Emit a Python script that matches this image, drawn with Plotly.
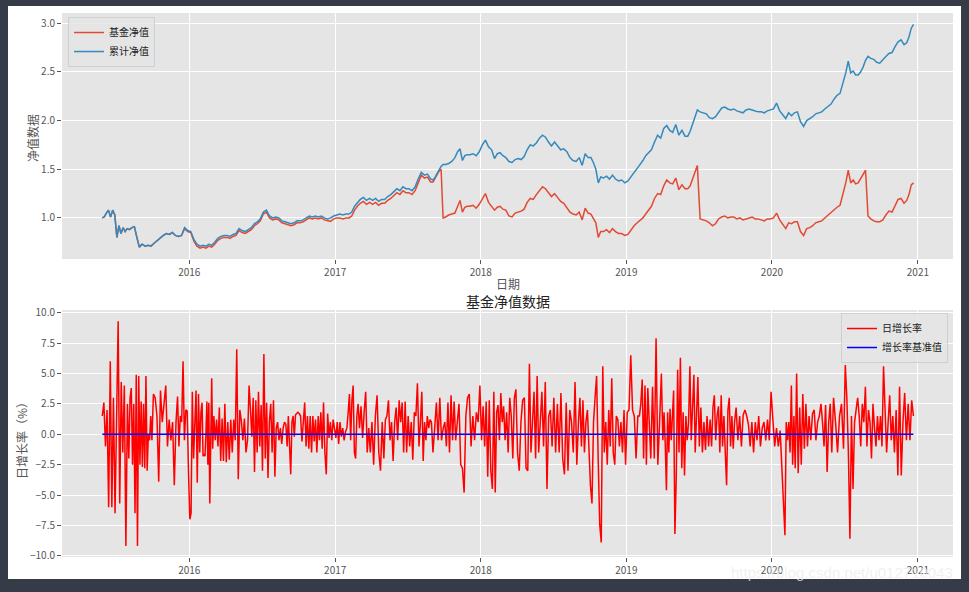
import pandas as pd
import plotly.graph_objects as go

# ---------------- data ----------------
months = [f"{y}-{m:02d}" for y in range(2015, 2021) for m in range(1, 13)
          if (y, m) >= (2015, 6) and (y, m) <= (2020, 12)]

# 累计净值 (cumulative NAV), values per month
cum_nav = [
    [1.00, 1.01, 1.05, 1.08, 1.01, 1.08, 1.03],      # 2015-06
    [0.80, 0.92, 0.84, 0.90, 0.86, 0.89],            # 2015-07
    [0.88, 0.90, 0.91, 0.80, 0.70],                  # 2015-08
    [0.73, 0.71, 0.72, 0.71],
    [0.74, 0.77, 0.79, 0.82],
    [0.84, 0.83, 0.85, 0.82],
    [0.81, 0.82, 0.90, 0.87],                        # 2015-12
    [0.86, 0.78, 0.73, 0.71],                        # 2016-01
    [0.72, 0.71, 0.73, 0.72],
    [0.75, 0.79, 0.81, 0.82],
    [0.82, 0.81, 0.83, 0.84],
    [0.89, 0.87, 0.86, 0.88],
    [0.90, 0.94, 0.96, 0.99],
    [1.06, 1.08, 1.02, 1.00],
    [1.01, 1.00, 0.97, 0.96],
    [0.95, 0.94, 0.95, 0.97],
    [0.97, 0.98, 1.00, 1.02],
    [1.01, 1.02, 1.01, 1.02],
    [1.00, 0.99, 1.00, 1.02],                        # 2016-12
    [1.03, 1.04, 1.03, 1.04],                        # 2017-01
    [1.04, 1.06, 1.12, 1.16],
    [1.19, 1.21, 1.18, 1.20],
    [1.18, 1.20, 1.17, 1.19],
    [1.19, 1.22, 1.24, 1.27],
    [1.30, 1.28, 1.32, 1.30],
    [1.30, 1.28, 1.32, 1.40],
    [1.47, 1.44, 1.45, 1.40],
    [1.39, 1.42, 1.46, 1.50, 1.53, 1.55],            # 2017-09
    [1.55, 1.56, 1.58, 1.62],
    [1.68, 1.71, 1.59, 1.64, 1.65],
    [1.65, 1.66, 1.64, 1.68],                        # 2017-12
    [1.75, 1.80, 1.73, 1.70],                        # 2018-01
    [1.61, 1.66, 1.67, 1.64],
    [1.62, 1.58, 1.57, 1.60],
    [1.61, 1.60, 1.63, 1.70],
    [1.75, 1.74, 1.77, 1.82],
    [1.85, 1.83, 1.78, 1.74],
    [1.78, 1.74, 1.70, 1.71],
    [1.68, 1.62, 1.59, 1.58],
    [1.62, 1.54, 1.66, 1.62],
    [1.62, 1.57, 1.50, 1.36, 1.42],
    [1.41, 1.43, 1.40, 1.44],
    [1.40, 1.38, 1.39, 1.36],                        # 2018-12
    [1.38, 1.42, 1.47, 1.50],                        # 2019-01
    [1.55, 1.59, 1.64, 1.67],
    [1.70, 1.78, 1.85, 1.82],
    [1.92, 1.95, 1.90, 1.88],
    [1.96, 1.85, 1.90, 1.84],
    [1.84, 1.89, 1.97, 2.05, 2.11],
    [2.09, 2.08, 2.07, 2.03],
    [2.02, 2.04, 2.09, 2.13],
    [2.14, 2.12, 2.11, 2.12],
    [2.10, 2.09, 2.08, 2.11],
    [2.12, 2.11, 2.10, 2.09],
    [2.09, 2.08, 2.10, 2.11],                        # 2019-12
    [2.12, 2.18, 2.10, 2.06],                        # 2020-01
    [2.02, 2.08, 2.05, 2.08],
    [2.09, 1.99, 1.94, 2.00],
    [2.02, 2.04, 2.07, 2.08],
    [2.09, 2.12, 2.15, 2.17],
    [2.22, 2.26, 2.28, 2.38],
    [2.49, 2.61, 2.49, 2.51, 2.47],
    [2.47, 2.50, 2.55, 2.62, 2.66],
    [2.64, 2.63, 2.60, 2.59],
    [2.63, 2.66, 2.69, 2.70],
    [2.76, 2.81, 2.83, 2.78],
    [2.80, 2.86, 2.95, 2.99],                        # 2020-12
]

# 基金净值 (unit NAV), values per month
unit_nav = [
    [1.00, 1.01, 1.05, 1.08, 1.01, 1.08, 1.03],      # 2015-06
    [0.80, 0.92, 0.84, 0.90, 0.86, 0.89],
    [0.88, 0.90, 0.91, 0.80, 0.70],
    [0.73, 0.71, 0.72, 0.71],
    [0.74, 0.77, 0.79, 0.82],
    [0.84, 0.83, 0.85, 0.82],
    [0.81, 0.82, 0.89, 0.86],                        # 2015-12
    [0.85, 0.76, 0.71, 0.69],                        # 2016-01
    [0.70, 0.69, 0.71, 0.70],
    [0.73, 0.77, 0.79, 0.80],
    [0.80, 0.79, 0.81, 0.82],
    [0.87, 0.85, 0.84, 0.86],
    [0.88, 0.92, 0.94, 0.97],
    [1.04, 1.06, 1.00, 0.98],
    [0.99, 0.98, 0.95, 0.94],
    [0.93, 0.92, 0.93, 0.95],
    [0.95, 0.96, 0.98, 1.00],
    [0.99, 1.00, 0.99, 1.00],
    [0.98, 0.97, 0.965, 0.99],                       # 2016-12
    [1.00, 1.00, 0.99, 1.00],                        # 2017-01
    [1.00, 1.02, 1.08, 1.12],
    [1.15, 1.17, 1.14, 1.16],
    [1.14, 1.16, 1.13, 1.15],
    [1.15, 1.18, 1.20, 1.23],
    [1.26, 1.24, 1.28, 1.26],
    [1.26, 1.24, 1.28, 1.36],
    [1.44, 1.41, 1.42, 1.37],
    [1.37, 1.41, 1.45, 1.48, 1.50, 1.00],            # 2017-09
    [1.01, 1.03, 1.04, 1.05],
    [1.12, 1.18, 1.06, 1.11, 1.12],
    [1.12, 1.13, 1.10, 1.14],                        # 2017-12
    [1.20, 1.25, 1.16, 1.12],                        # 2018-01
    [1.08, 1.11, 1.12, 1.09],
    [1.08, 1.02, 1.01, 1.05],
    [1.06, 1.07, 1.09, 1.16],
    [1.20, 1.19, 1.24, 1.28],
    [1.32, 1.30, 1.26, 1.22],
    [1.25, 1.21, 1.17, 1.15],
    [1.11, 1.06, 1.04, 1.03],
    [1.06, 0.98, 1.10, 1.05],
    [1.04, 0.99, 0.95, 0.80, 0.86],
    [0.86, 0.88, 0.85, 0.89],
    [0.86, 0.84, 0.84, 0.82],                        # 2018-12
    [0.83, 0.88, 0.92, 0.95],                        # 2019-01
    [0.98, 1.00, 1.04, 1.08],
    [1.12, 1.20, 1.25, 1.24],
    [1.33, 1.39, 1.36, 1.35],
    [1.41, 1.29, 1.34, 1.30],
    [1.30, 1.33, 1.40, 1.46, 1.54],
    [0.99, 0.98, 0.97, 0.95],
    [0.92, 0.94, 0.99, 1.01],
    [1.02, 1.00, 1.01, 1.01],
    [0.99, 1.00, 0.98, 0.99],
    [1.00, 1.01, 0.99, 0.99],
    [0.98, 0.97, 0.99, 0.99],                        # 2019-12
    [1.00, 1.05, 0.98, 0.93],                        # 2020-01
    [0.89, 0.95, 0.94, 0.96],
    [0.96, 0.86, 0.82, 0.89],
    [0.90, 0.92, 0.95, 0.96],
    [0.97, 1.00, 1.03, 1.05],
    [1.08, 1.11, 1.13, 1.24],
    [1.36, 1.49, 1.36, 1.39, 1.35],
    [1.36, 1.40, 1.44, 1.49, 1.02],
    [0.99, 0.97, 0.96, 0.96],
    [0.98, 1.03, 1.07, 1.06],
    [1.12, 1.19, 1.20, 1.15],
    [1.18, 1.24, 1.34, 1.36],                        # 2020-12
]

# 日增长率 (daily growth, %), values per month
growth = [
    [1.5, 2.6, -1.0, 2.0, -6.0, 6.0, -6.0, 3.0, -6.5],            # 2015-06
    [1.5, 9.3, -5.7, 4.3, -1.5, 4.0, -9.2, 2.5],
    [-2.0, 3.0, 3.8, -2.5, 2.5, -6.5, 4.9, -9.2, 4.8, -2.5],
    [2.7, -2.7, 2.5, -2.8, 4.8, -3.0, 0.0, -0.5, 1.5, -0.5],
    [3.3, 3.0, 1.5, -3.9, 3.6, 1.0, 2.5],
    [4.0, -1.0, 1.2, -0.5, 1.0, -4.2, 1.0],
    [3.1, -1.0, 1.5, 1.0, 6.0, -0.5, 2.0, 1.9, -3.2],             # 2015-12
    [-7.0, -6.5, 3.5, -2.0, 1.5, 3.6, -4.0, 3.3, -1.5, 1.8],      # 2016-01
    [2.6, -1.8, -1.7, -1.8, 0.0, 2.7, -2.5, 2.6, -5.7, 1.0, 4.6, -1.2],
    [1.5, -0.5, 1.2, -1.0, 2.2, -2.2, 1.3, -2.2, 2.5],
    [-2.3, 1.0, -2.1, 1.2, -1.5, 1.2, -0.5, 7.0],
    [-3.7, 2.0, 1.1, -0.5, 1.3, -1.5, -0.5, 4.0],
    [2.0, -0.2, 3.0, -3.1, 2.8, -1.5, 3.5, -1.0, 2.4],
    [-3.0, 6.6, -2.0, 2.6, -3.6, 1.0, 2.5, -1.5, 2.8],
    [-3.5, 0.5, 1.0, -0.5, 0.5, -0.8, 0.5, 1.0, 0.8],
    [-1.0, 1.5, -0.5, -3.3, 1.0, 1.5, -0.2, 1.6, 1.7, 1.8],
    [1.7, 1.5, -0.6, 1.0, 2.6, -1.0, 1.5, -1.2, 1.5],
    [-1.5, 1.5, -0.6, 1.2, -1.5, 1.5, -0.5, 1.8, -1.2],
    [2.6, -1.5, -3.3, 1.7, -0.3, 1.0, -0.5, 1.2, 0.5],            # 2016-12
    [-0.3, 1.0, -0.8, 1.0, -0.2, 0.5, -0.5, 0.2, 0.5],            # 2017-01
    [1.8, 3.3, -0.5, 2.8, 4.0, -1.5, -2.0, 1.5, 2.5],
    [0.5, 2.3, -0.3, 1.8, 3.5, -1.5, 0.5, -1.5],
    [1.0, -2.5, 1.5, 3.2, -1.5, -3.0, 1.0],
    [-2.0, 1.2, 1.5, 2.8, -0.5, 1.0, -2.2, 1.0],
    [2.2, -0.5, 2.8, 1.0, 2.6, -1.5, 2.7, -1.5],
    [1.5, -1.0, 1.0, -2.1, 1.8, 1.5, 4.2, -1.0],
    [1.0, 3.5, -2.2, 1.0, -0.5, 1.5, 0.5, 1.2, 1.0],
    [-1.5, 0.5, 2.6, -0.5, 3.0, -0.5, 0.5],
    [1.0, -1.0, 2.6, -1.5, 3.2, -0.5, 2.7, -0.5],
    [1.0, 2.5, -2.5, -2.8, -4.8, 1.5, 3.0],
    [3.3, -1.0, 1.5, -0.5, 1.8, 1.0, 4.0],                        # 2017-12
    [-0.5, 2.3, -1.0, 2.7, -3.5, 2.8, -3.0, -4.5],                # 2018-01
    [3.5, -4.8, 1.8, 2.4, -0.5, 3.4, 1.0, 2.3],
    [-0.5, 1.8, -1.5, 3.0, 1.5, -2.0, 3.0, 3.7],
    [-1.5, -3.0, 1.0, 2.8, 3.0, -2.8, -3.0],
    [5.8, -1.5, 1.0, 3.5, -2.0, 4.8, -1.5, 1.5],
    [3.5, -1.0, 4.3, -4.5, 1.5, 2.0, -1.0],
    [3.0, -1.5, 2.5, -1.5, 3.4, -2.0, -3.3],
    [2.6, -3.0, 2.0, 1.0, -1.5, 4.3, -2.5],
    [1.0, 3.0, -1.0, 2.8, -1.5, 1.0, 2.0, -1.5],
    [-4.2, -5.7, 1.0, 3.0, 4.8, -2.0, -7.4, -8.9],
    [5.6, -1.5, 1.0, -2.5, 2.0, -1.0, 4.6, -1.5],
    [-2.5, 1.5, 1.2, -1.0, 1.0, -1.5, 2.0, -2.5],                 # 2018-12
    [1.8, 2.0, 6.5, 2.0, 1.5, -2.0, 1.5],                         # 2019-01
    [1.5, 2.5, 4.5, -2.0, 4.0, -2.5, 3.8, 1.0],
    [-2.0, 3.9, -2.0, 7.9, -2.5, 1.0, 5.0],
    [-0.5, 1.8, -0.8, -4.6, 1.8, -1.5, 2.1, -0.5, 1.5, 3.6],
    [-8.2, -3.5, 5.3, -1.5, 6.3, -2.8, 1.8, -3.4, 1.5],
    [-0.5, 1.0, 5.6, -0.5, 3.2, 4.9, -1.5, 2.5, 4.7],
    [-1.0, 2.2, -1.5, 1.0, -1.3, 1.5, -1.0, 1.2],
    [-1.0, 2.2, 3.2, -0.5, 1.5, 2.3, -1.5, 3.2, -1.0],
    [1.5, -1.5, -4.2, 2.0, 3.0, -1.0, 1.5, -1.2, 1.0],
    [2.2, -0.5, 1.5, -1.0, 1.6, 2.0, 1.5],
    [0.8, -1.0, 1.0, -1.5, 1.0, -0.5, 1.5],
    [-1.0, 0.5, 1.0, -0.5, 1.2, -0.5, 3.5],                       # 2019-12
    [1.0, -1.0, 0.5, -1.0, 0.3],                                  # 2020-01
    [-8.3, 1.0, -0.5, 1.0, -1.5, 4.0, -2.5, 1.5, -2.8],
    [5.0, -3.2, 2.2, -2.5, 3.3, -1.2, 2.5, -1.0],
    [1.5, -0.5, 1.7, 2.0, -0.5, 1.0, 1.5],
    [2.5, 1.0, -1.0, 2.4, -3.1, 1.0, 2.5, -1.5],
    [3.0, 1.0, -1.5, 1.5, 2.5, -1.2],
    [5.7, 3.0, -1.5, -8.6, 1.5, -4.5, 1.0, 2.0],
    [3.0, 1.5, -1.0, 2.5, 1.0, 3.9, -1.0, 2.0],
    [1.0, -2.0, 2.5, 0.5, -1.0, 1.5, -0.5, 1.5],
    [-1.0, 5.6, 2.5, -1.5, 1.0, 3.2, -0.5, 1.5],
    [-1.5, 2.0, -3.4, 3.9, -3.4, 1.0, 3.4],
    [-0.5, 2.5, -0.5, 2.8, 1.5],                                  # 2020-12
]
baseline_value = 0.0

# trading spans that differ from a full calendar month
nav_spans = {"2015-06": ("2015-05-25", "2015-07-01"), "2020-12": ("2020-12-01", "2020-12-24")}
growth_spans = {"2015-06": ("2015-05-26", "2015-07-01"),
                "2020-01": ("2020-01-01", "2020-01-24"),
                "2020-12": ("2020-12-01", "2020-12-23")}

x_ticks = ["2016-01-01", "2017-01-01", "2018-01-01", "2019-01-01", "2020-01-01", "2021-01-01"]
x_tick_text = ["2016", "2017", "2018", "2019", "2020", "2021"]
y1_ticks = [1.0, 1.5, 2.0, 2.5, 3.0]
y2_ticks = [-10.0, -7.5, -5.0, -2.5, 0.0, 2.5, 5.0, 7.5, 10.0]


def expand(groups, spans):
    xs, ys = [], []
    for m, vals in zip(months, groups):
        if m in spans:
            s, e = pd.Timestamp(spans[m][0]), pd.Timestamp(spans[m][1])
        else:
            s = pd.Timestamp(m + "-01")
            e = s + pd.offsets.MonthBegin(1)
        n = len(vals)
        for i, v in enumerate(vals):
            xs.append(s + (e - s) * ((i + 0.5) / n))
            ys.append(v)
    return xs, ys


ux, uy = expand(unit_nav, nav_spans)
cx, cy = expand(cum_nav, nav_spans)
gx, gy = expand(growth, growth_spans)

FONT = "Noto Sans CJK SC, Noto Sans, sans-serif"

fig = go.Figure()
fig.add_trace(go.Scatter(x=ux, y=uy, mode="lines", name="基金净值",
                         line=dict(color="#E24A33", width=1.5), xaxis="x", yaxis="y", legend="legend"))
fig.add_trace(go.Scatter(x=cx, y=cy, mode="lines", name="累计净值",
                         line=dict(color="#348ABD", width=1.5), xaxis="x", yaxis="y", legend="legend"))
fig.add_trace(go.Scatter(x=gx, y=gy, mode="lines", name="日增长率",
                         line=dict(color="#FF0000", width=1.5), xaxis="x2", yaxis="y2", legend="legend2"))
fig.add_trace(go.Scatter(x=[gx[0], gx[-1]], y=[baseline_value, baseline_value], mode="lines",
                         name="增长率基准值", line=dict(color="#0000FF", width=1.5),
                         xaxis="x2", yaxis="y2", legend="legend2"))

xrange_ = ["2015-02-16", "2021-03-30"]
axis_common = dict(showgrid=True, gridcolor="#FFFFFF", gridwidth=1, zeroline=False, showline=False,
                   ticks="outside", ticklen=4, tickwidth=1, tickcolor="#555555", automargin=False,
                   tickfont=dict(family=FONT, size=10, color="#555555"))

fig.update_layout(
    template="none",
    width=969, height=592,
    paper_bgcolor="#353b47", plot_bgcolor="rgba(0,0,0,0)",
    margin=dict(l=62, r=16, t=13, b=35, pad=0),
    font=dict(family=FONT),
    showlegend=True,
    xaxis=dict(domain=[0, 1], anchor="y", range=xrange_, tickvals=x_ticks, ticktext=x_tick_text, **axis_common),
    yaxis=dict(domain=[0.5478, 1.0], anchor="x", range=[0.578, 3.106], tickvals=y1_ticks,
               tickformat=".1f", **axis_common),
    xaxis2=dict(domain=[0, 1], anchor="y2", range=xrange_, tickvals=x_ticks, ticktext=x_tick_text, **axis_common),
    yaxis2=dict(domain=[0, 0.4540], anchor="x2", range=[-10.1, 10.22], tickvals=y2_ticks,
                tickformat=".1f", **axis_common),
    legend=dict(x=0.0067, y=0.9926, xanchor="left", yanchor="top",
                bgcolor="rgba(229,229,229,0.8)", bordercolor="#cfcfcf", borderwidth=1,
                font=dict(family=FONT, size=10, color="#222222"), tracegroupgap=0),
    legend2=dict(x=0.9944, y=0.4485, xanchor="right", yanchor="top",
                 bgcolor="rgba(229,229,229,0.8)", bordercolor="#cfcfcf", borderwidth=1,
                 font=dict(family=FONT, size=10, color="#222222"), tracegroupgap=0),
    shapes=[
        dict(type="rect", xref="paper", yref="paper", x0=-0.0606, x1=1.009, y0=-0.0404, y1=1.0129,
             fillcolor="#FFFFFF", line=dict(width=0), layer="below"),
        dict(type="rect", xref="x domain", yref="y domain", x0=0, x1=1, y0=0, y1=1,
             fillcolor="#E5E5E5", line=dict(width=0), layer="below"),
        dict(type="rect", xref="x2 domain", yref="y2 domain", x0=0, x1=1, y0=0, y1=1,
             fillcolor="#E5E5E5", line=dict(width=0), layer="below"),
    ],
    annotations=[
        dict(text="日期", xref="paper", yref="paper", x=0.5006, y=0.5025, showarrow=False,
             font=dict(family=FONT, size=12, color="#555555"), xanchor="center", yanchor="middle"),
        dict(text="基金净值数据", xref="paper", yref="paper", x=0.5, y=0.471, showarrow=False,
             font=dict(family=FONT, size=14, color="#222222"), xanchor="center", yanchor="middle"),
        dict(text="净值数据", xref="paper", yref="paper", x=-0.0337, y=0.770, showarrow=False,
             textangle=-90, font=dict(family=FONT, size=12, color="#555555"),
             xanchor="center", yanchor="middle"),
        dict(text="日增长率（%）", xref="paper", yref="paper", x=-0.0449, y=0.2206, showarrow=False,
             textangle=-90, font=dict(family=FONT, size=12, color="#555555"),
             xanchor="center", yanchor="middle"),
        dict(text="https://blog.csdn.net/u012710043", xref="paper", yref="paper", x=0.875, y=-0.0294,
             showarrow=False, font=dict(family="Liberation Sans, Arial, sans-serif", size=15,
                                        color="rgba(235,235,235,0.75)"),
             xanchor="center", yanchor="middle"),
    ],
)

fig.write_html("out.html")
